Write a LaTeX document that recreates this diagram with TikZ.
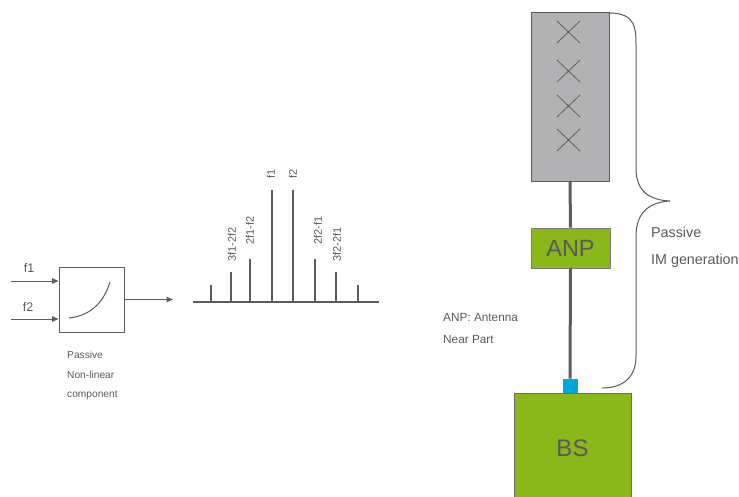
\documentclass[tikz,border=0pt]{standalone}
\usepackage{fontspec}
\setmainfont{Liberation Sans}
\usepackage{xcolor}
\usepackage{tikz}
\usetikzlibrary{arrows.meta,positioning,calc}
\definecolor{Slate}{HTML}{595959}
\definecolor{WireGrey}{HTML}{5C5C5C}
\definecolor{PanelGrey}{HTML}{B2B2B4}
\definecolor{LeafGreen}{HTML}{8AB81B}
\definecolor{PortCyan}{HTML}{00A6D6}

\begin{document}
\begin{tikzpicture}[x=1pt,y=-1pt]
  \path[use as bounding box] (0,0) rectangle (739,496);

  \tikzset{
    imText/.style={
      text=Slate,
      inner sep=0pt,
      align=left
    },
    imBlock/.style={
      draw=WireGrey,
      line width=.9pt,
      fill=white,
      inner sep=0pt
    },
    imFlow/.style={
      -{Triangle[length=6.5pt,width=5.5pt]},
      draw=WireGrey,
      line width=1pt
    },
    imTone/.style={
      draw=WireGrey,
      line width=1.4pt
    },
    imToneLabel/.style={
      imText,
      rotate=90,
      anchor=west,
      font=\fontsize{11}{12}\selectfont
    },
    imGreen/.style={
      draw=WireGrey!80,
      line width=.9pt,
      fill=LeafGreen,
      text=Slate,
      inner sep=0pt
    },
    imCable/.style={
      draw=WireGrey,
      line width=3pt
    }
  }

  % left: two tones into the non-linear part
  \node[imBlock,minimum width=65pt,minimum height=65pt] (nlbox) at (91.5,299.5) {};
  \draw[WireGrey,line width=1pt] (69,318) .. controls (88,316) and (103,305) .. (110,282);
  \coordinate (in1) at (11,281);
  \coordinate (in2) at (11,319);
  \coordinate (out) at (173,299.5);
  \draw[imFlow] (in1) -- (in1 -| nlbox.west);
  \draw[imFlow] (in2) -- (in2 -| nlbox.west);
  \draw[imFlow] (nlbox.east) -- (out);
  \node[imText,font=\fontsize{12.5}{14}\selectfont] (lf1) at (29,268) {f1};
  \node[imText,font=\fontsize{12.5}{14}\selectfont] (lf2) at (28,307) {f2};
  \node[imText,anchor=north west,font=\fontsize{10.2}{19.5}\selectfont]
    (nlcap) at (67,351) {Passive\\Non-linear\\component};

  % middle: tones and intermodulation products
  \coordinate (axl) at (193,302);
  \coordinate (axr) at (379,302);
  \draw[imTone] (axl) -- (axr);
  \draw[imTone] (211,302) -- (211,285);
  \draw[imTone] (231,302) -- (231,272);
  \draw[imTone] (250,302) -- (250,259);
  \draw[imTone] (272,302) -- (272,190);
  \draw[imTone] (293,302) -- (293,190);
  \draw[imTone] (315,302) -- (315,259);
  \draw[imTone] (336,302) -- (336,272);
  \draw[imTone] (358,302) -- (358,285);
  \node[imToneLabel] (l3f1) at (232,262) {3f1-2f2};
  \node[imToneLabel] (l2f1) at (250,245) {2f1-f2};
  \node[imToneLabel] (lf1s) at (271,179) {f1};
  \node[imToneLabel] (lf2s) at (293,179) {f2};
  \node[imToneLabel] (l2f2) at (318,245) {2f2-f1};
  \node[imToneLabel] (l3f2) at (337,262) {3f2-2f1};

  % right: antenna, ANP and base station
  \node[imBlock,fill=PanelGrey,minimum width=78pt,minimum height=169pt] (ant) at (570,96.5) {};
  \draw[WireGrey,line width=.8pt] (557,21) -- (580,43) (557,43) -- (580,21);
  \draw[WireGrey,line width=.8pt] (557,60) -- (580,82) (557,82) -- (580,60);
  \draw[WireGrey,line width=.8pt] (557,95) -- (580,117) (557,117) -- (580,95);
  \draw[WireGrey,line width=.8pt] (557,129) -- (580,151) (557,151) -- (580,129);
  \node[imGreen,minimum width=79pt,minimum height=40pt,font=\fontsize{23.5}{26}\selectfont]
    (anp) at (570.5,248) {ANP};
  \node[imGreen,fill=PortCyan,minimum width=14pt,minimum height=14pt] (port) at (570,386) {};
  \node[imGreen,draw=WireGrey!90,minimum width=117pt,minimum height=110pt,font=\fontsize{24}{26}\selectfont]
    (bs) at (572.5,448) {BS};
  \draw[imCable] (ant.south) -- (anp.north);
  \draw[imCable] (anp.south) -- (port.north);

  % brace over the passive chain
  \draw[WireGrey,line width=1pt]
    (609,13) .. controls (636,13) and (636,28) .. (636,48) -- (636,168)
    .. controls (636,192) and (650,200) .. (670,201)
    .. controls (650,202) and (636,212) .. (636,236) -- (636,356)
    .. controls (636,380) and (620,388) .. (602,388);
  \node[imText,anchor=north west,font=\fontsize{14.3}{27}\selectfont]
    (imnote) at (651,226.5) {Passive\\IM generation};
  \node[imText,anchor=north west,font=\fontsize{11.8}{22}\selectfont]
    (anpnote) at (443,313) {ANP: Antenna\\Near Part};
\end{tikzpicture}
\end{document}
